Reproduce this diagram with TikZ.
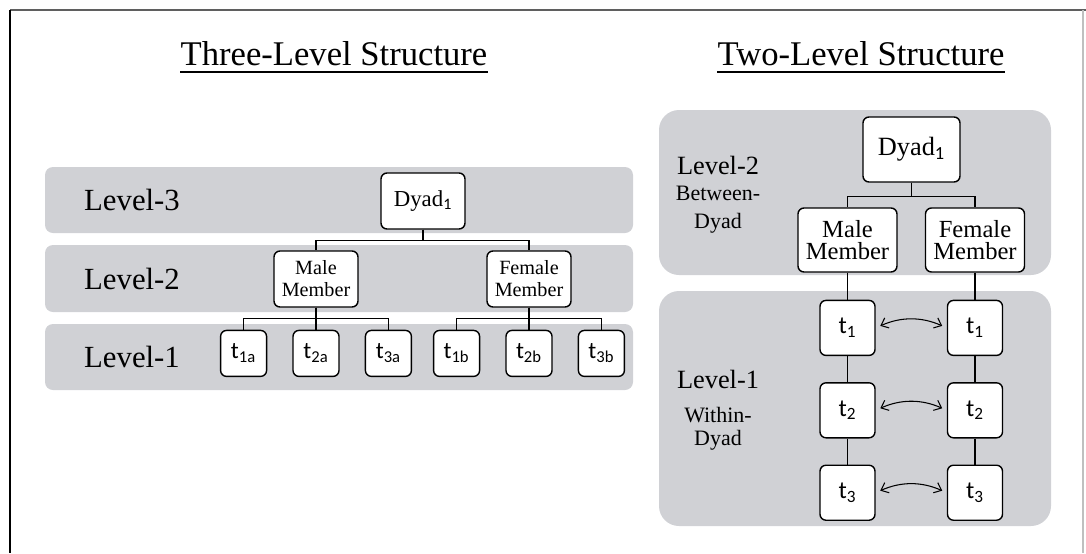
\documentclass[tikz,border=0pt]{standalone}
\usepackage{fontspec}
\setmainfont{Liberation Serif}
\newfontfamily\tfont{Carlito}
\usetikzlibrary{arrows.meta,positioning}

\definecolor{bandgray}{RGB}{208,209,213}
\definecolor{framegray}{RGB}{95,95,95}

% time-point label: sans t with sans subscript
\newcommand{\tp}[1]{{\tfont t\textsubscript{#1}}}
\newcommand{\dyadlabel}{Dyad\textsubscript{\tfont 1}}

\begin{document}
\begin{tikzpicture}[
  x=0.2mm, y=-0.2mm,
  band/.style={fill=bandgray, rounded corners=1.6mm},
  wideband/.style={fill=bandgray, rounded corners=4mm},
  unit/.style={draw, fill=white, rounded corners=1.2mm, line width=0.8pt, align=center, inner sep=1pt},
  dyadL/.style={unit, minimum width=16.8mm, minimum height=11.2mm, font=\fontsize{13}{15}\selectfont},
  memberL/.style={unit, minimum width=16.8mm, minimum height=11.2mm, font=\fontsize{11.5}{12.5}\selectfont},
  tL/.style={unit, minimum width=9.2mm, minimum height=9.2mm, font=\fontsize{13.5}{15}\selectfont},
  dyadR/.style={unit, minimum width=19.4mm, minimum height=13mm, font=\fontsize{15}{17}\selectfont},
  memberR/.style={unit, minimum width=19.8mm, minimum height=12.8mm, font=\fontsize{14}{12.5}\selectfont},
  tR/.style={unit, minimum width=11mm, minimum height=11mm, font=\fontsize{14}{15}\selectfont},
  level/.style={font=\fontsize{17.5}{20}\selectfont},
  levelR/.style={font=\fontsize{15}{17}\selectfont},
  title/.style={inner sep=0pt, font=\fontsize{19.7}{22}\selectfont},
  link/.style={line width=0.6pt},
  pair/.style={{Straight Barb[length=1.3mm,width=2.2mm]}-{Straight Barb[length=1.3mm,width=2.2mm]}, line width=0.6pt, shorten <=1mm, shorten >=1mm}
]
\useasboundingbox (0,0) rectangle (1086,553);

% frame
\draw[framegray, line width=0.8pt] (10,10) -- (1086,10);
\draw[black, line width=0.8pt] (10,10) -- (10,553);
\draw[black!25, line width=0.6pt] (1083,10) -- (1083,553);

% titles
\node[title, anchor=base] (titleL) at (334,65) {Three-Level Structure};
\node[title, anchor=base] (titleR) at (861,65) {Two-Level Structure};
\draw[line width=1.1pt] ([yshift=-4pt]titleL.base west) -- ([yshift=-4pt]titleL.base east);
\draw[line width=1.1pt] ([yshift=-4pt]titleR.base west) -- ([yshift=-4pt]titleR.base east);

% three-level bands
\fill[band] (45,167) rectangle (633,233);
\fill[band] (45,245) rectangle (633,312);
\fill[band] (45,324) rectangle (633,390);
\node[level] (lev3) at (132,200) {Level-3};
\node[level] (lev2) at (132,279) {Level-2};
\node[level] (lev1) at (132,357) {Level-1};

\node[dyadL] (dyad) at (423,201) {\dyadlabel};
\node[memberL] (male) at (316,279) {Male\\Member};
\node[memberL] (female) at (529,279) {Female\\Member};
\node[tL, below=4.4mm of male] (t2a) {\tp{2a}};
\node[tL, left=5mm of t2a] (t1a) {\tp{1a}};
\node[tL, right=5mm of t2a] (t3a) {\tp{3a}};
\node[tL, below=4.4mm of female] (t2b) {\tp{2b}};
\node[tL, left=5mm of t2b] (t1b) {\tp{1b}};
\node[tL, right=5mm of t2b] (t3b) {\tp{3b}};

\draw[link] (dyad.south) -- ++(0,11) -| (male.north);
\draw[link] (dyad.south) -- ++(0,11) -| (female.north);
\foreach \t in {t1a,t2a,t3a}
  \draw[link] (male.south) -- ++(0,11) -| (\t.north);
\foreach \t in {t1b,t2b,t3b}
  \draw[link] (female.south) -- ++(0,11) -| (\t.north);

% two-level bands
\fill[wideband] (659,110) rectangle (1051,275);
\fill[wideband] (659,291) rectangle (1051,526);
\node[levelR, anchor=base] (levB) at (718,174) {Level-2};
\node[align=center, font=\fontsize{12.5}{16}\selectfont] (between) at (718,210) {Between-\\Dyad};
\node[levelR, anchor=base] (levW) at (718,388) {Level-1};
\node[align=center, font=\fontsize{12.5}{13}\selectfont] (within) at (718,429) {Within-\\Dyad};

\node[dyadR] (dyadR) at (911.5,149.5) {\dyadlabel};
\node[memberR] (maleR) at (847.5,240) {Male\\Member};
\node[memberR] (femaleR) at (975,240) {Female\\Member};
\node[tR, below=5.4mm of maleR] (m1) {\tp{1}};
\node[tR, below=5.2mm of m1] (m2) {\tp{2}};
\node[tR, below=5.2mm of m2] (m3) {\tp{3}};
\node[tR, below=5.4mm of femaleR] (f1) {\tp{1}};
\node[tR, below=5.2mm of f1] (f2) {\tp{2}};
\node[tR, below=5.2mm of f2] (f3) {\tp{3}};

\draw[link] (dyadR.south) -- ++(0,14) -| (maleR.north);
\draw[link] (dyadR.south) -- ++(0,14) -| (femaleR.north);
\draw[link] (maleR) -- (m1) -- (m2) -- (m3);
\draw[link] (femaleR) -- (f1) -- (f2) -- (f3);
\foreach \i in {1,2,3}
  \draw[pair] (m\i.east) to[bend left=24] (f\i.west);
\end{tikzpicture}
\end{document}
